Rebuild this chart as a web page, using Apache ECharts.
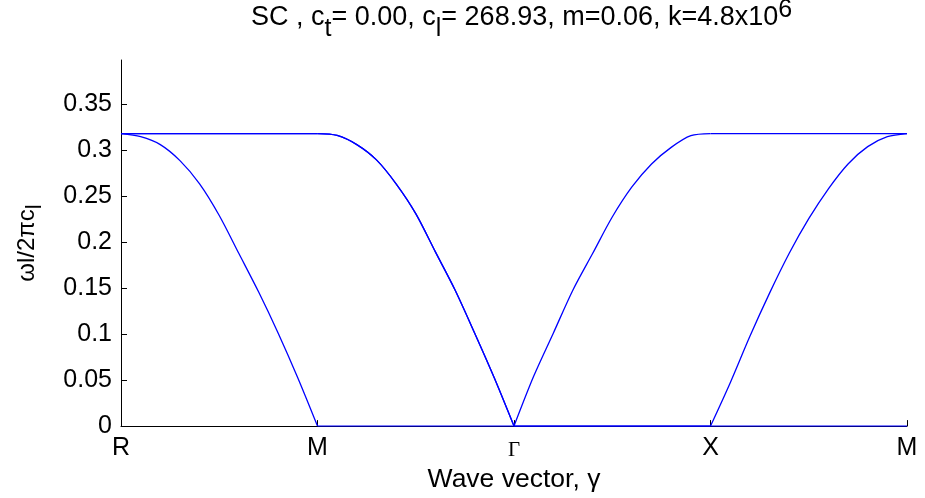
<!DOCTYPE html>
<html>
<head>
<meta charset="utf-8">
<script src="https://cdn.jsdelivr.net/npm/echarts@6/dist/echarts.min.js"></script>
<style>html,body{margin:0;padding:0;background:#fff}#c{width:925px;height:498px}</style>
</head>
<body>
<div id="c"></div>
<script>
// Path positions: R=0, M=1, Gamma=2, X=3, M=4 (samples every 0.1)
var kpath = [0,0.1,0.2,0.3,0.4,0.5,0.6,0.7,0.8,0.9,
             1,1.1,1.2,1.3,1.4,1.5,1.6,1.7,1.8,1.9,
             2,2.1,2.2,2.3,2.4,2.5,2.6,2.7,2.8,2.9,
             3,3.1,3.2,3.3,3.4,3.5,3.6,3.7,3.8,3.9,4];
var tickPos = [0, 1, 2, 3, 4];
var tickNames = ['R', 'M', 'Γ', 'X', 'M'];
var yTicks = [0, 0.05, 0.1, 0.15, 0.2, 0.25, 0.3, 0.35];

// branch 1 (lowest)
var branchLow = [0.318,0.3146,0.306,0.2886,0.2634,0.229,0.1876,0.146,0.101,0.0523,
                 0,0,0,0,0,0,0,0,0,0,
                 0,0,0,0,0,0,0,0,0,0,
                 0,0,0,0,0,0,0,0,0,0,0];
// branch 2 (middle)
var branchMid = [0.318,0.318,0.318,0.318,0.318,0.318,0.318,0.318,0.318,0.318,
                 0.318,0.316,0.306,0.2894,0.2634,0.231,0.1894,0.148,0.101,0.0523,
                 0,0,0,0,0,0,0,0,0,0,
                 0,0.0469,0.0974,0.1443,0.1876,0.2255,0.258,0.285,0.3038,0.3146,0.318];
// branch 3 (top)
var branchTop = [0.318,0.318,0.318,0.318,0.318,0.318,0.318,0.318,0.318,0.318,
                 0.318,0.316,0.306,0.2894,0.2634,0.231,0.1894,0.148,0.101,0.0523,
                 0,0.0541,0.101,0.148,0.1876,0.2273,0.26,0.285,0.303,0.3157,
                 0.318,0.318,0.318,0.318,0.318,0.318,0.318,0.318,0.318,0.318,0.318];

// segment index ranges along the path (R-M, M-Γ, Γ-X, X-M)
var segStarts = [0, 10, 20, 30];
var segLen = 10;

var FONT = 'Liberation Sans';
var chart = echarts.init(document.getElementById('c'), null, {renderer: 'canvas'});
var lineStyle = {color: '#0000ff', width: 1.3};
var series = [];
[branchLow, branchMid, branchTop].forEach(function (ys, b) {
  segStarts.forEach(function (s, j) {
    var pts = [];
    for (var i = s; i <= s + segLen; i++) pts.push([kpath[i], ys[i]]);
    series.push({name: 'b' + b + 's' + j, type: 'line', data: pts, showSymbol: false, symbol: 'none',
      smooth: 0.3, clip: true, lineStyle: lineStyle, animation: false, silent: true});
  });
});

chart.setOption({
  animation: false,
  title: {
    text: 'SC , c{sub|t}= 0.00, c{sub|l}= 268.93, m=0.06, k=4.8x10{sup|6}',
    left: 246, top: -12,
    textStyle: {
      fontFamily: FONT, fontSize: 27, fontWeight: 'normal', color: '#000',
      rich: {
        sub: {fontFamily: FONT, fontSize: 25, color: '#000', padding: [24, 0, 0, 0]},
        sup: {fontFamily: FONT, fontSize: 25, color: '#000', padding: [0, 0, 14, 0]}
      }
    }
  },
  grid: {left: 121, right: 18, top: 60, bottom: 70, containLabel: false},
  xAxis: {
    type: 'value', min: 0, max: 4, interval: 1,
    name: 'Wave vector, γ', nameLocation: 'middle', nameGap: 30,
    nameTextStyle: {fontFamily: FONT, fontSize: 26.5, color: '#000'},
    axisLine: {show: true, lineStyle: {color: '#000', width: 1}},
    axisTick: {show: true, inside: true, length: 6, lineStyle: {color: '#000'}, customValues: tickPos},
    axisLabel: {
      fontFamily: FONT, fontSize: 25, color: '#000', margin: 10,
      customValues: tickPos,
      formatter: function (v) {
        var i = tickPos.indexOf(Math.round(v));
        var s = tickNames[i] || '';
        return s === 'Γ' ? '{g|Γ}' : s;
      },
      rich: {g: {fontFamily: 'Liberation Serif', fontSize: 21, color: '#000', padding: [4, 0, 0, 0]}}
    },
    splitLine: {show: false}
  },
  yAxis: {
    type: 'value', min: 0, max: 0.398,
    name: '{n|ωl/2πc}{s|l}', nameLocation: 'middle', nameGap: 75, nameRotate: 90,
    nameTextStyle: {
      fontFamily: FONT, fontSize: 24, color: '#000',
      rich: {
        n: {fontFamily: FONT, fontSize: 24, color: '#000'},
        s: {fontFamily: FONT, fontSize: 22, color: '#000', padding: [16, 0, 0, 0]}
      }
    },
    axisLine: {show: true, lineStyle: {color: '#000', width: 1}},
    axisTick: {show: true, inside: true, length: 6, lineStyle: {color: '#000'}, customValues: yTicks},
    axisLabel: {fontFamily: FONT, fontSize: 25, color: '#000', margin: 9, customValues: yTicks},
    splitLine: {show: false}
  },
  series: series
});
</script>
</body>
</html>
